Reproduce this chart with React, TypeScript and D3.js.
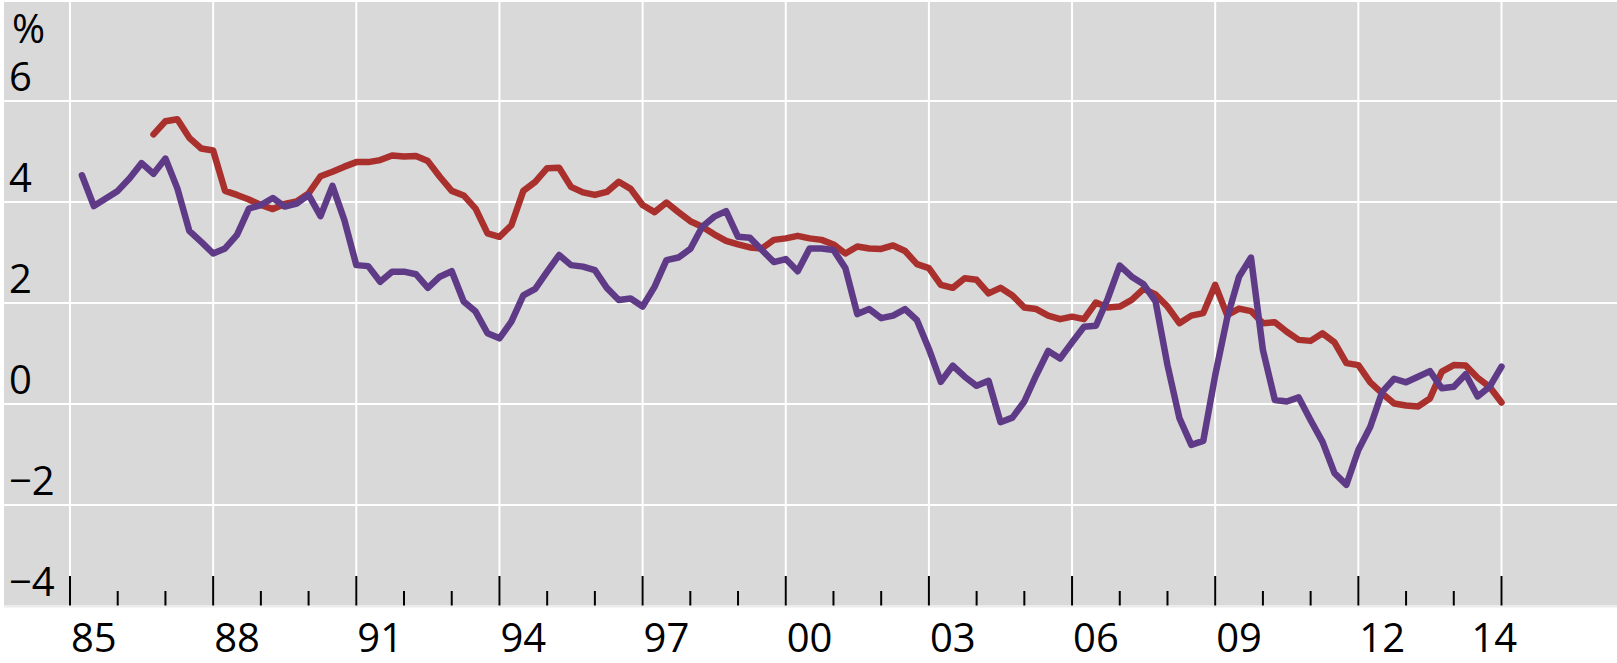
import { line, range, scaleLinear } from 'd3'

// quarterly series, first value = Q1 1985 (purple) and Q3 1986 (red)
const purpleStart = 1985
const purpleValues = [
  4.53, 3.92, 4.07, 4.22,
  4.47, 4.77, 4.56, 4.86,
  4.27, 3.43, 3.21, 2.98,
  3.08, 3.35, 3.87, 3.94,
  4.08, 3.91, 3.97, 4.14,
  3.72, 4.32, 3.64, 2.75,
  2.73, 2.42, 2.62, 2.62,
  2.57, 2.3, 2.52, 2.63,
  2.03, 1.83, 1.4, 1.3,
  1.63, 2.15, 2.28, 2.62,
  2.95, 2.75, 2.72, 2.65,
  2.3, 2.06, 2.09, 1.93,
  2.32, 2.85, 2.9, 3.07,
  3.51, 3.71, 3.82, 3.31,
  3.29, 3.05, 2.81, 2.87,
  2.63, 3.08, 3.08, 3.05,
  2.69, 1.78, 1.88, 1.7,
  1.75, 1.88, 1.66, 1.09,
  0.44, 0.76, 0.54, 0.36,
  0.46, -0.36, -0.27, 0.05,
  0.57, 1.05, 0.9, 1.22,
  1.53, 1.55, 2.09, 2.74,
  2.52, 2.37, 2.03, 0.77,
  -0.28, -0.81, -0.73, 0.57,
  1.7, 2.52, 2.9, 1.07,
  0.08, 0.05, 0.13, -0.32,
  -0.75, -1.37, -1.6, -0.91,
  -0.45, 0.24, 0.5, 0.43,
  0.54, 0.65, 0.31, 0.34,
  0.59, 0.15, 0.34, 0.74,
]

const redStart = 1986.5
const redValues = [
  5.34, 5.6,
  5.64, 5.27, 5.06, 5.02,
  4.22, 4.14, 4.05, 3.94,
  3.86, 3.96, 4.01, 4.17,
  4.51, 4.6, 4.7, 4.79,
  4.79, 4.83, 4.92, 4.9,
  4.91, 4.81, 4.5, 4.22,
  4.13, 3.87, 3.38, 3.31,
  3.54, 4.22, 4.4, 4.67,
  4.68, 4.3, 4.19, 4.14,
  4.2, 4.4, 4.26, 3.94,
  3.8, 3.99, 3.8, 3.62,
  3.51, 3.36, 3.23, 3.16,
  3.1, 3.08, 3.25, 3.28,
  3.33, 3.28, 3.25, 3.16,
  2.98, 3.12, 3.08, 3.07,
  3.14, 3.03, 2.77, 2.69,
  2.36, 2.3, 2.49, 2.46,
  2.19, 2.3, 2.15, 1.91,
  1.88, 1.75, 1.68, 1.73,
  1.68, 2.01, 1.91, 1.93,
  2.06, 2.28, 2.17, 1.93,
  1.6, 1.75, 1.8, 2.36,
  1.76, 1.89, 1.84, 1.6,
  1.62, 1.43, 1.27, 1.25,
  1.4, 1.22, 0.81, 0.77,
  0.43, 0.21, 0.01, -0.03,
  -0.05, 0.11, 0.64, 0.77,
  0.76, 0.52, 0.34, 0.03,
]

const yTickValues = [-4, -2, 0, 2, 4, 6]
const xTickLabels = ['85', '88', '91', '94', '97', '00', '03', '06', '09', '12', '14']
const xLabelDates = [
  1985.5, 1988.5, 1991.5, 1994.5, 1997.5, 2000.5, 2003.5, 2006.5, 2009.5, 2012.5, 2014.85,
]

const chartWidth = 1617
const chartHeight = 663
const plotLeft = 4
const plotTop = 2
const plotBottom = 605.5
const fontFamily = '"Open Sans", "Noto Sans", sans-serif'

type Point = { t: number; v: number }

const toPoints = (start: number, values: number[]): Point[] =>
  values.map((v, i) => ({ t: start + (i + 1) / 4, v }))

function App() {
  const xScale = scaleLinear().domain([1985, 2015]).range([70, 1501.5])
  const yScale = scaleLinear().domain([-4, 8]).range([606, 0])

  const pathFor = line<Point>()
    .x((d) => xScale(d.t))
    .y((d) => yScale(d.v))

  const years = range(1985, 2016)
  const gridYears = years.filter((y) => (y - 1985) % 3 === 0)

  return (
    <svg
      width={chartWidth}
      height={chartHeight}
      viewBox={`0 0 ${chartWidth} ${chartHeight}`}
      style={{ position: 'absolute', left: 0, top: 0, background: '#ffffff' }}
      fontFamily={fontFamily}
    >
      <rect
        x={plotLeft}
        y={plotTop}
        width={chartWidth - plotLeft}
        height={plotBottom - plotTop}
        fill="#d9d9d9"
      />

      {yTickValues
        .filter((tick) => tick > -4)
        .map((tick) => (
          <line
            key={`h-${tick}`}
            x1={plotLeft}
            x2={chartWidth}
            y1={yScale(tick)}
            y2={yScale(tick)}
            stroke="#ffffff"
            strokeWidth={2}
          />
        ))}

      {gridYears.map((year) => (
        <line
          key={`v-${year}`}
          x1={xScale(year)}
          x2={xScale(year)}
          y1={plotTop}
          y2={plotBottom}
          stroke="#ffffff"
          strokeWidth={2}
        />
      ))}

      <line
        x1={plotLeft}
        x2={chartWidth}
        y1={plotBottom + 1.2}
        y2={plotBottom + 1.2}
        stroke="#ebebeb"
        strokeWidth={1.5}
      />

      {years.map((year) => {
        const major = (year - 1985) % 3 === 0
        return (
          <line
            key={`t-${year}`}
            x1={xScale(year)}
            x2={xScale(year)}
            y1={major ? 576 : 591}
            y2={plotBottom}
            stroke="#000000"
            strokeWidth={2}
          />
        )
      })}

      {yTickValues.map((tick) => (
        <text
          key={`yl-${tick}`}
          x={9}
          y={yScale(tick) - 10}
          fontSize={40}
          fill="#000000"
        >
          {tick < 0 ? `\u2212${Math.abs(tick)}` : tick}
        </text>
      ))}

      <text x={12} y={43} fontSize={40} fill="#000000">
        %
      </text>

      {xTickLabels.map((label, i) => (
        <text
          key={`xl-${label}`}
          x={xScale(xLabelDates[i])}
          y={652}
          fontSize={40}
          textAnchor="middle"
          fill="#000000"
        >
          {label}
        </text>
      ))}

      <path
        d={pathFor(toPoints(redStart, redValues)) ?? ''}
        fill="none"
        stroke="#a9302d"
        strokeWidth={6.5}
        strokeLinejoin="round"
        strokeLinecap="round"
      />
      <path
        d={pathFor(toPoints(purpleStart, purpleValues)) ?? ''}
        fill="none"
        stroke="#5f3b87"
        strokeWidth={6.5}
        strokeLinejoin="round"
        strokeLinecap="round"
      />
    </svg>
  )
}

export default App
